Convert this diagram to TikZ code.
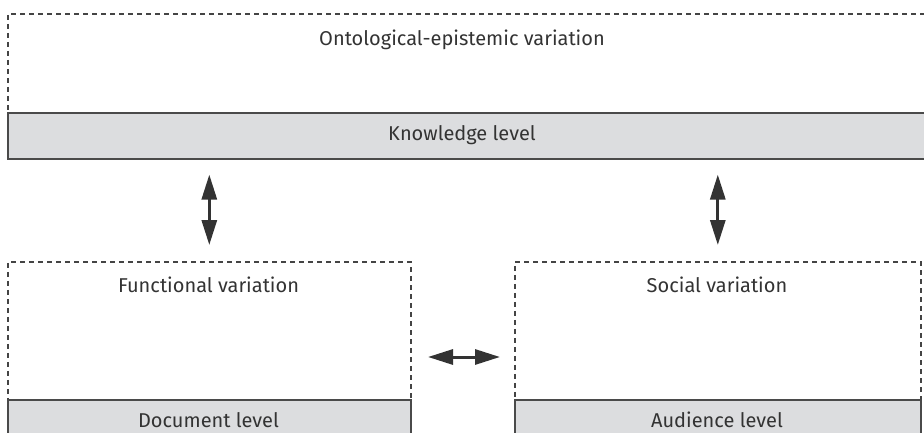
\documentclass[tikz,border=0pt]{standalone}
\usepackage{fontspec}
\setmainfont{Fira Sans}
\usetikzlibrary{arrows.meta}
\definecolor{dashc}{HTML}{444444}
\definecolor{bandfill}{HTML}{DCDDDF}
\definecolor{bandline}{HTML}{4A4A4A}
\definecolor{arrc}{HTML}{333333}
\definecolor{txtc}{HTML}{333333}
\tikzset{
  varbox/.style={draw=dashc, dash pattern=on 5pt off 4pt, line width=1.6pt, inner sep=0pt, anchor=north west},
  band/.style={draw=bandline, fill=bandfill, line width=1.6pt, inner sep=0pt, anchor=north west},
  lbl/.style={text=txtc, font=\fontsize{20}{24}\selectfont, inner sep=0pt},
  arr/.style={draw=arrc, line width=3pt, {Triangle[length=25pt,width=15pt]}-{Triangle[length=25pt,width=15pt]}}
}
\begin{document}
\begin{tikzpicture}[x=1pt,y=-1pt]
\useasboundingbox (0,0) rectangle (924,433);
\clip (0,0) rectangle (924,433);
% top
\node[varbox, minimum width=940pt, minimum height=99pt] (onto) at (7,13) {};
\node[band, minimum width=940pt, minimum height=46pt] (know) at (7,112) {};
% bottom left
\node[varbox, minimum width=403pt, minimum height=138pt] (func) at (7,261) {};
\node[band, minimum width=403pt, minimum height=50pt] (doc) at (7,399) {};
% bottom right
\node[varbox, minimum width=406pt, minimum height=138pt] (soc) at (514,261) {};
\node[band, minimum width=406pt, minimum height=50pt] (aud) at (514,399) {};
% labels
\node[lbl] (tonto) at (462,40) {Ontological-epistemic variation};
\node[lbl] (tknow) at (462,135) {Knowledge level};
\node[lbl] (tfunc) at (208.5,285) {Functional variation};
\node[lbl] (tsoc) at (717,285) {Social variation};
\node[lbl] (tdoc) at (208.5,420) {Document level};
\node[lbl] (taud) at (717,420) {Audience level};
% arrows
\draw[arr, shorten <=15pt, shorten >=16pt] (know.south -| func.north) -- (func.north);
\draw[arr, shorten <=15pt, shorten >=16pt] (know.south -| soc.north) -- (soc.north);
\coordinate (hl) at (410,357);
\coordinate (hr) at (514,357);
\draw[arr, shorten <=18pt, shorten >=14pt] (hl) -- (hr);
\end{tikzpicture}
\end{document}
